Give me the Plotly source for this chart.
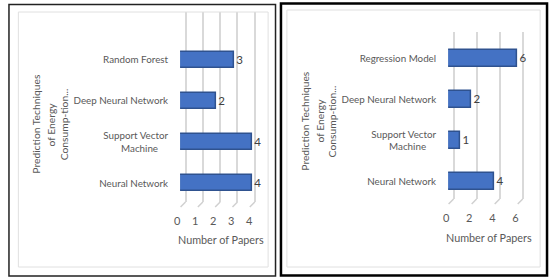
import plotly.graph_objects as go

W, H = 550, 280

# ---- data ----
left_categories = ["Neural Network", "Support Vector<br>Machine\u00a0\u00a0\u00a0\u00a0", "Deep Neural Network", "Random Forest"]
left_values = [4, 4, 2, 3]
right_categories = ["Neural Network", "Support Vector<br>Machine\u00a0\u00a0\u00a0\u00a0", "Deep Neural Network", "Regression Model"]
right_values = [4, 1, 2, 6]
left_ticks = [0, 1, 2, 3, 4]
right_ticks = [0, 2, 4, 6]
y_title_lines = ["Prediction Techniques", "of Energy", "Consump-tion..."]
x_title = "Number of Papers"

FONT = "Lato"
TXT = "#595959"
BAR = "#4472C4"
EDGE = "#2F528F"
GRID = "#D9D9D9"


def px(x):
    return x / W


def py(y):
    return 1 - y / H


fig = go.Figure()
for vals, xa, ya in [(left_values, "x", "y"), (right_values, "x2", "y2")]:
    fig.add_trace(go.Bar(
        x=vals, y=list(range(len(vals))), orientation="h",
        marker=dict(color=BAR, line=dict(color=EDGE, width=1.5)), width=0.4,
        text=[str(v) for v in vals], textposition="outside",
        textfont=dict(family=FONT, size=11.5, color="#404040"), cliponaxis=False,
        xaxis=xa, yaxis=ya, showlegend=False, hoverinfo="skip"))
# invisible carriers for the (set-back) grid axes
for xa, ya in [("x3", "y"), ("x4", "y2")]:
    fig.add_trace(go.Scatter(x=[None], y=[None], xaxis=xa, yaxis=ya,
                             showlegend=False, hoverinfo="skip"))

common_x = dict(showgrid=False, zeroline=False, showline=False, ticks="",
                tickfont=dict(family=FONT, size=11, color=TXT),
                ticklabelstandoff=11, fixedrange=True)
grid_x = dict(showgrid=True, gridcolor=GRID, gridwidth=1.5, zeroline=False,
              showline=False, ticks="", showticklabels=False, fixedrange=True)
common_y = dict(showgrid=False, zeroline=False, showline=False, ticks="",
                tickfont=dict(family=FONT, size=9.8, color=TXT), ticklabelstandoff=11,
                fixedrange=True)

L_UNIT, R_UNIT = 17.5, 11.65
L_DOM, R_DOM = (176, 255), (447, 524)
L_GRID_RANGE = [-5.5 / L_UNIT, (L_DOM[1] - L_DOM[0] - 5.5) / L_UNIT]
R_GRID_RANGE = [-5.5 / R_UNIT, (R_DOM[1] - R_DOM[0] - 5.5) / R_UNIT]

fig.update_layout(
    width=W, height=H, margin=dict(l=0, r=0, t=0, b=0),
    paper_bgcolor="white", plot_bgcolor="rgba(0,0,0,0)", bargap=0,
    xaxis=dict(domain=[px(L_DOM[0]), px(L_DOM[1])], range=[0, 79 / 18.2], anchor="y",
               tickvals=left_ticks, ticklabelshift=-3, **common_x),
    xaxis3=dict(domain=[px(L_DOM[0]), px(L_DOM[1])], range=L_GRID_RANGE,
                overlaying="x", anchor="y", tickvals=left_ticks, **grid_x),
    yaxis=dict(domain=[py(202), py(12)], range=[-0.46, 4.17], anchor="x",
               tickvals=list(range(4)), ticktext=left_categories, **common_y),
    xaxis2=dict(domain=[px(R_DOM[0]), px(R_DOM[1])], range=[0, 77 / 11.7], anchor="y2",
                tickvals=right_ticks, ticklabelshift=-2, **common_x),
    xaxis4=dict(domain=[px(R_DOM[0]), px(R_DOM[1])], range=R_GRID_RANGE,
                overlaying="x2", anchor="y2", tickvals=right_ticks, **grid_x),
    yaxis2=dict(domain=[py(199), py(32)], range=[-0.43, 3.65], anchor="x2",
                tickvals=list(range(4)), ticktext=right_categories, **common_y),
)

# 3-D floor: short slanted continuation of each grid line (decoration)
for ticks, dom, rng, ytop in [(left_ticks, L_DOM, L_GRID_RANGE, 202),
                              (right_ticks, R_DOM, R_GRID_RANGE, 199)]:
    for v in ticks:
        gx = dom[0] + (v - rng[0]) / (rng[1] - rng[0]) * (dom[1] - dom[0])
        fig.add_shape(type="line", xref="paper", yref="paper", x0=px(gx), x1=px(gx - 5),
                      y0=py(ytop), y1=py(ytop + 5), line=dict(color="#D0D0D0", width=1.5))

# axis titles
for xc, yc in [(217, 239), (488, 237)]:
    fig.add_annotation(x=px(xc), y=py(yc), xref="paper", yref="paper", text=x_title,
                       xanchor="center", yanchor="middle",
                       showarrow=False, font=dict(family=FONT, size=10.8, color=TXT))
for xs, yc in [((30, 46, 59), 124), ((302, 317, 330), 121)]:
    for xc, line in zip(xs, y_title_lines):
        fig.add_annotation(x=px(xc), y=py(yc), xref="paper", yref="paper", text=line,
                           xanchor="center", yanchor="middle",
                           textangle=-90, showarrow=False,
                           font=dict(family=FONT, size=10.3, color=TXT))

# panel frames
fig.add_shape(type="rect", xref="paper", yref="paper", x0=px(12.5), x1=px(265), y0=py(267), y1=py(12),
              line=dict(color="#E0E0E0", width=1))
fig.add_shape(type="rect", xref="paper", yref="paper", x0=px(284), x1=px(540), y0=py(267), y1=py(10),
              line=dict(color="#E0E0E0", width=1))
fig.add_shape(type="rect", xref="paper", yref="paper", x0=px(3), x1=px(272.5), y0=py(276), y1=py(4.5),
              line=dict(color="#222222", width=1.5))
fig.add_shape(type="rect", xref="paper", yref="paper", x0=px(278), x1=px(547), y0=py(275.5), y1=py(3.5),
              line=dict(color="#000000", width=2.5))

fig.write_html("out.html", config={"displayModeBar": False},
               post_script="document.body.style.margin='0';")
